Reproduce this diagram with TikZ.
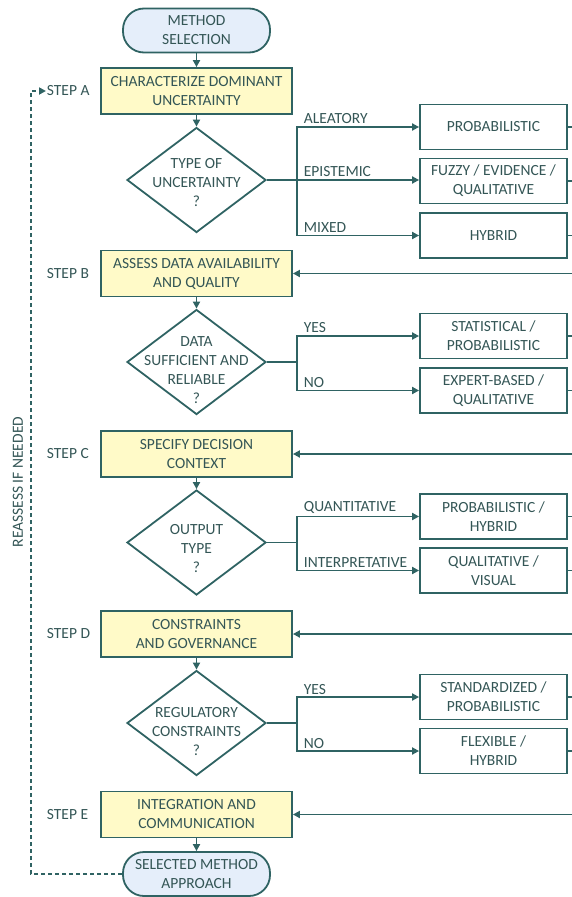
\documentclass[tikz,border=0pt]{standalone}
\usepackage{fontspec}
\setmainfont{Carlito}
\usetikzlibrary{shapes.geometric,arrows.meta}
\definecolor{flowline}{RGB}{47,99,99}
\definecolor{flowtext}{RGB}{52,86,86}
\definecolor{stepfill}{RGB}{255,250,200}
\definecolor{termfill}{RGB}{229,238,250}

\begin{document}
\begin{tikzpicture}[x=1pt, y=-1pt, line width=1.8pt, draw=flowline,
  every node/.style={font=\fontsize{15.5}{19}\selectfont, text=flowtext, align=center},
  term/.style={draw=flowline, fill=termfill, rounded corners=21pt, minimum width=147pt, minimum height=44pt, inner sep=0},
  stepbox/.style={draw=flowline, fill=stepfill, minimum width=191pt, minimum height=46pt, inner sep=0},
  decision/.style={diamond, draw=flowline, minimum width=139pt, minimum height=105pt, inner sep=0},
  outbox/.style={draw=flowline, minimum width=147pt, minimum height=45pt, inner sep=0},
  steplab/.style={anchor=west, inner sep=0},
  brlab/.style={anchor=south west, pos=0.5, inner sep=2pt, xshift=4pt},
  flow/.style={draw=flowline, -{Triangle[length=7pt,width=7pt]}},
  link/.style={draw=flowline}]

\useasboundingbox (0,0) rectangle (572,897);
\clip (0,0) rectangle (572,897);

% main column
\node[term] (start) at (196.5,30.5) {METHOD\\SELECTION};
\node[stepbox] (sA) at (196.5,91) {CHARACTERIZE DOMINANT\\UNCERTAINTY};
\node[decision, label={[yshift=-3pt]center:{TYPE OF\\UNCERTAINTY\\?}}] (d1) at (196.5,180) {};
\node[stepbox] (sB) at (196.5,273.5) {ASSESS DATA AVAILABILITY\\AND QUALITY};
\node[decision, label={[yshift=-8pt]center:{DATA\\SUFFICIENT AND\\RELIABLE\\?}}] (d2) at (196.5,362) {};
\node[stepbox] (sC) at (196.5,454) {SPECIFY DECISION\\CONTEXT};
\node[decision, label={[yshift=-6pt]center:{OUTPUT\\TYPE\\?}}] (d3) at (196.5,542.5) {};
\node[stepbox] (sD) at (196.5,634) {CONSTRAINTS\\AND GOVERNANCE};
\node[decision, label={[yshift=-9pt]center:{REGULATORY\\CONSTRAINTS\\?}}] (d4) at (196.5,723) {};
\node[stepbox] (sE) at (196.5,814.5) {INTEGRATION AND\\COMMUNICATION};
\node[term] (stop) at (196.5,874) {SELECTED METHOD\\APPROACH};

\draw[flow] (start) -- (sA);
\draw[flow] (sA) -- (d1);
\draw[flow] (sB) -- (d2);
\draw[flow] (sC) -- (d3);
\draw[flow] (sD) -- (d4);
\draw[flow] (sE) -- (stop);

% step labels
\node[steplab] (lA) at (46,91) {STEP A};
\node[steplab] (lB) at (46,273.5) {STEP B};
\node[steplab] (lC) at (46,454) {STEP C};
\node[steplab] (lD) at (46,634) {STEP D};
\node[steplab] (lE) at (46,814.5) {STEP E};
\node[rotate=90] (reassess) at (18,482) {REASSESS IF NEEDED};

% outcome boxes
\node[outbox] (o1) at (493.5,127) {PROBABILISTIC};
\node[outbox] (o2) at (493.5,181) {FUZZY / EVIDENCE /\\QUALITATIVE};
\node[outbox] (o3) at (493.5,235.5) {HYBRID};
\node[outbox] (o4) at (493.5,336) {STATISTICAL /\\PROBABILISTIC};
\node[outbox] (o5) at (493.5,390.5) {EXPERT-BASED /\\QUALITATIVE};
\node[outbox] (o6) at (493.5,516.5) {PROBABILISTIC /\\HYBRID};
\node[outbox] (o7) at (493.5,570.5) {QUALITATIVE /\\VISUAL};
\node[outbox] (o8) at (493.5,697) {STANDARDIZED /\\PROBABILISTIC};
\node[outbox] (o9) at (493.5,751) {FLEXIBLE /\\HYBRID};

% branches
\coordinate (j1) at (297,180);
\coordinate (j2) at (297,362);
\coordinate (j3) at (297,542.5);
\coordinate (j4) at (297,723);

\draw[link] (d1.east) -- (j1);
\draw[flow] (j1) |- node[brlab] {ALEATORY} (o1.west);
\draw[flow] (j1) -- node[brlab, pos=0] {EPISTEMIC} (j1 -| o2.west);
\draw[flow] (j1) |- node[brlab] {MIXED} (o3.west);

\draw[link] (d2.east) -- (j2);
\draw[flow] (j2) |- node[brlab] {YES} (o4.west);
\draw[flow] (j2) |- node[brlab] {NO} (o5.west);

\draw[link] (d3.east) -- (j3);
\draw[flow] (j3) |- node[brlab] {QUANTITATIVE} (o6.west);
\draw[flow] (j3) |- node[brlab] {INTERPRETATIVE} (o7.west);

\draw[link] (d4.east) -- (j4);
\draw[flow] (j4) |- node[brlab] {YES} (o8.west);
\draw[flow] (j4) |- node[brlab] {NO} (o9.west);

% stubs to the right edge
\foreach \o in {o1,o2,o3,o4,o5,o6,o7,o8,o9}
  \draw[link] (\o.east) -- ++(12,0);

% feedback into the next step
\coordinate (fB) at (585,273.5);
\coordinate (fC) at (585,454);
\coordinate (fD) at (585,634);
\coordinate (fE) at (585,814.5);
\draw[flow] (fB) -- (sB.east);
\draw[flow] (fC) -- (sC.east);
\draw[flow] (fD) -- (sD.east);
\draw[flow] (fE) -- (sE.east);

% reassess loop
\draw[flow, dashed, dash pattern=on 4pt off 3pt] (stop.west) -- ++(-91,0) |- (lA.west);
\end{tikzpicture}
\end{document}
